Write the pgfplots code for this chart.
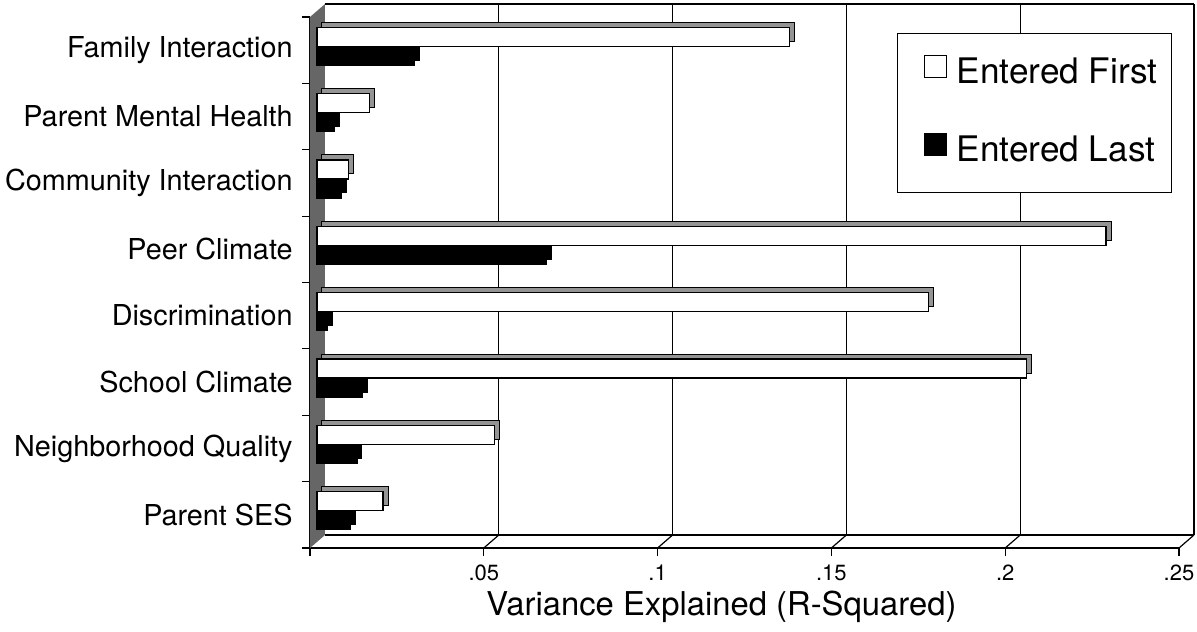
\documentclass[border=0pt]{standalone}
\usepackage{fontspec}
\setmainfont{TeX Gyre Heros}
\usepackage{pgfplots}
\pgfplotsset{compat=1.18}
\usepackage{pgfplotstable}

% R-squared of each predictor block, entered first and entered last
\pgfplotstableread{
idx first last
0 0.019 0.0095
1 0.051 0.0115
2 0.204 0.013
3 0.176 0.003
4 0.227 0.066
5 0.009 0.007
6 0.015 0.005
7 0.136 0.028
}\rsq

\definecolor{wallgray}{gray}{0.40}
\definecolor{topgray}{gray}{0.58}

\begin{document}
\begin{tikzpicture}
\begin{axis}[
  at={(0pt,0pt)}, anchor=south west,
  scale only axis, width=434.5pt, height=265.5pt,
  xmin=0, xmax=0.25, ymin=-0.5, ymax=7.5,
  clip=false,
  axis lines*=left,
  axis line style={line width=0.6pt},
  tick style={line width=0.6pt, black},
  tick align=outside,
  major tick length=4pt,
  xtick={0,0.05,0.1,0.15,0.2,0.25},
  xticklabels={,.05,.1,.15,.2,.25},
  xticklabel style={font=\fontsize{11}{13}\selectfont, anchor=north, inner sep=0pt, yshift=-4pt},
  /pgf/number format/assume math mode=true,
  ytick={-0.5,0.5,...,7.5},
  yticklabels={},
  extra y ticks={0,1,2,3,4,5,6,7},
  extra y tick labels={Parent SES, Neighborhood Quality, School Climate, Discrimination, Peer Climate, Community Interaction, Parent Mental Health, Family Interaction},
  extra y tick style={major tick length=0pt, yticklabel style={font=\fontsize{14.4}{17}\selectfont, anchor=east, inner sep=0pt, xshift=-8.5pt}},
  xlabel={Variance Explained (R-Squared)},
  xlabel style={font=\fontsize{16.4}{19}\selectfont, at={(axis description cs:0.4735,0)}, anchor=center, yshift=-29.5pt},
  legend style={at={(0.6755,0.9699)}, anchor=north west, draw=black, line width=0.6pt, fill=white,
    font=\fontsize{17.6}{21}\selectfont, inner xsep=5pt, inner ysep=10.4pt, row sep=19.3pt, column sep=3pt,
    nodes={inner sep=2pt, text height=12.7pt, text depth=3pt, anchor=west}},
  legend cell align=left,
  legend image code/.code={\path (0pt,0pt); \draw[#1, line width=0.5pt] (8pt,-3.5pt) rectangle (19pt,7.5pt);},
]
% back wall grid and floor edges
\pgfplotsinvokeforeach{0.05,0.1,0.15,0.2,0.25}{
  \draw[line width=0.6pt] ([shift={(7.5pt,6.5pt)}]axis cs:#1,-0.5) -- ([shift={(7.5pt,6.5pt)}]axis cs:#1,7.5);
  \draw[line width=0.6pt] (axis cs:#1,-0.5) -- ([shift={(7.5pt,6.5pt)}]axis cs:#1,-0.5);
}
\draw[line width=0.6pt] ([shift={(7.5pt,6.5pt)}]axis cs:0,-0.5) -- ([shift={(7.5pt,6.5pt)}]axis cs:0.25,-0.5);
\draw[line width=0.6pt] ([shift={(7.5pt,6.5pt)}]axis cs:0,7.5) -- ([shift={(7.5pt,6.5pt)}]axis cs:0.25,7.5);
% left side wall
\fill[wallgray] (axis cs:0,-0.5) -- (axis cs:0,7.5) -- ([shift={(7.5pt,6.5pt)}]axis cs:0,7.5) -- ([shift={(7.5pt,6.5pt)}]axis cs:0,-0.5) -- cycle;

% bar depth (top and end faces)
\addplot[xbar, bar width=9.5pt, bar shift=4.75pt, draw=black, line width=0.5pt, fill=topgray, xshift=6pt, yshift=4.5pt, forget plot]
  table[x=first, y=idx]{\rsq};
\addplot[xbar, bar width=9.5pt, bar shift=-4.75pt, draw=black, line width=0.5pt, fill=black, xshift=6pt, yshift=4.5pt, forget plot]
  table[x=last, y=idx]{\rsq};
% bar fronts
\addplot[xbar, bar width=9.5pt, bar shift=4.75pt, draw=black, line width=0.6pt, fill=white, xshift=3.5pt, yshift=2pt]
  table[x=first, y=idx]{\rsq};
\addplot[xbar, bar width=9.5pt, bar shift=-4.75pt, draw=black, line width=0.6pt, fill=black, xshift=3.5pt, yshift=2pt]
  table[x=last, y=idx]{\rsq};
\legend{Entered First, Entered Last}
\end{axis}
\pgfresetboundingbox
\path[use as bounding box] (-155pt,-41.5pt) rectangle (443.5pt,274pt);
\end{tikzpicture}
\end{document}
